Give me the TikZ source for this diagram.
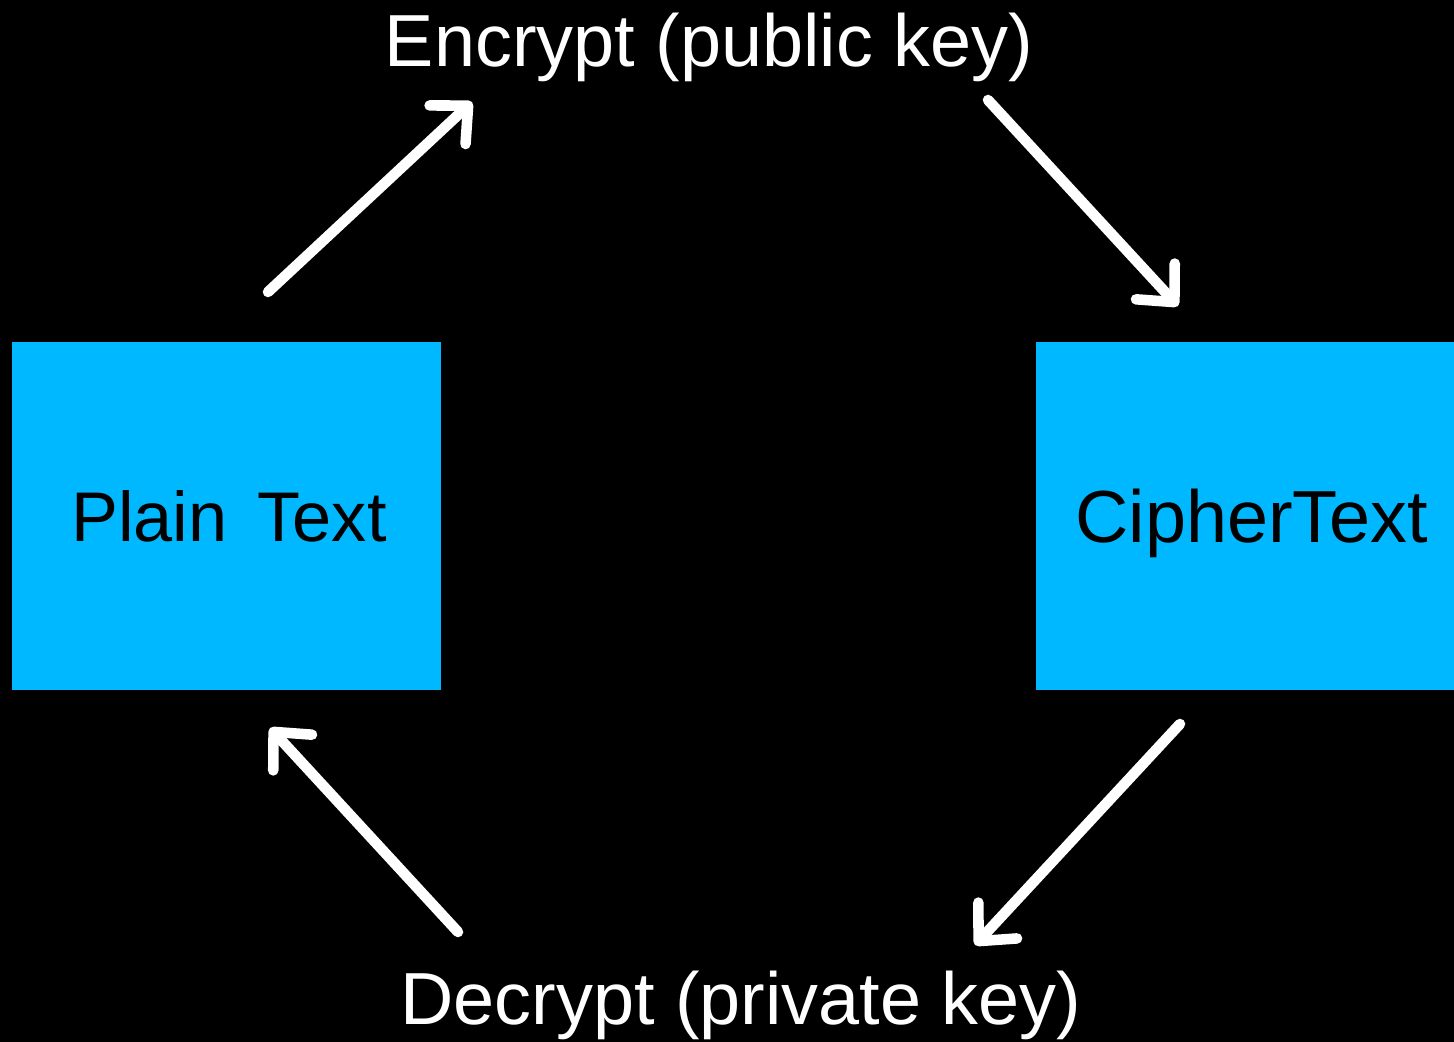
\documentclass[tikz,border=0pt]{standalone}
\usepackage{fontspec}
\setmainfont{Liberation Sans}
\usetikzlibrary{arrows.meta}
\definecolor{boxcyan}{RGB}{0,184,255}
\tikzset{
  keybox/.style={draw=none, fill=boxcyan, inner sep=0pt, text=black,
    text depth=0pt, font=\fontsize{21}{25}\selectfont},
  steplabel/.style={text=white, inner sep=0pt, anchor=base,
    font=\fontsize{21}{25}\selectfont},
  flow/.style={white, line width=3pt, line cap=round,
    -{Straight Barb[length=8pt, width=15pt, line cap=round, line join=round]}}
}
\begin{document}
\begin{tikzpicture}[x=1cm, y=1cm]
  \fill[black] (0,0) rectangle (14.54,10.42);
  \useasboundingbox (0,0) rectangle (14.54,10.42);

  % the two message states
  \node[keybox, minimum width=4.29cm, minimum height=3.48cm] (plain) at (2.265,5.26) {\hspace{0.05cm}\fontsize{20}{24}\selectfont Plain\hspace{0.30cm}Text};
  \node[keybox, minimum width=4.18cm, minimum height=3.48cm] (cipher) at (12.45,5.26) {\hspace{0.14cm}CipherText};

  % operation labels
  \node[steplabel] (enc) at (7.09,9.75) {Encrypt\ (public\ key)};
  \node[steplabel] (dec) at (7.41,0.17) {Decrypt\ (private\ key)};

  % arrow end points
  \coordinate (a1s) at (2.68,7.50);
  \coordinate (a1e) at (4.72,9.40);
  \coordinate (a2s) at (9.88,9.42);
  \coordinate (a2e) at (11.78,7.36);
  \coordinate (a3s) at (11.80,3.18);
  \coordinate (a3e) at (9.75,0.97);
  \coordinate (a4s) at (4.58,1.10);
  \coordinate (a4e) at (2.70,3.14);

  \draw[flow] (a1s) -- (a1e);
  \draw[flow] (a2s) -- (a2e);
  \draw[flow] (a3s) -- (a3e);
  \draw[flow] (a4s) -- (a4e);
\end{tikzpicture}
\end{document}
